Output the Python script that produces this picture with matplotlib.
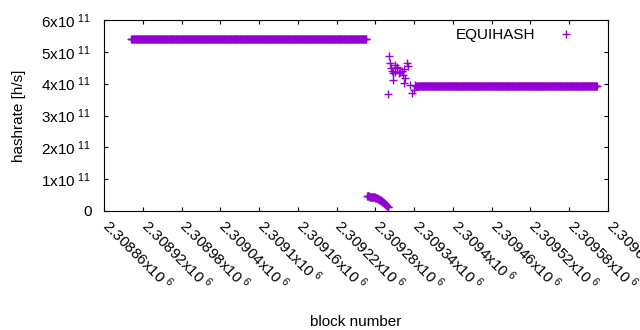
import numpy as np
import matplotlib
matplotlib.use("Agg")
import matplotlib.pyplot as plt
import matplotlib.transforms as mtransforms

plt.rcParams['font.family'] = ['Liberation Sans', 'DejaVu Sans']
plt.rcParams['mathtext.fontset'] = 'custom'
plt.rcParams['mathtext.rm'] = 'Liberation Sans'

# long flat stretches: (first block, last block, hashrate)
flat_high = (2308902, 2309266, 5.40e11)
flat_tail = (2309345, 2309623, 3.92e11)

# dip right after the high stretch
dip_blocks = np.arange(2309267, 2309301)
dip_vals = np.array([0.47, 0.46, 0.46, 0.46, 0.45, 0.45, 0.45, 0.45, 0.44, 0.44,
                     0.44, 0.43, 0.43, 0.42, 0.42, 0.41, 0.40, 0.39, 0.38, 0.36,
                     0.35, 0.34, 0.32, 0.31, 0.29, 0.27, 0.26, 0.24, 0.22, 0.20,
                     0.18, 0.15, 0.13, 0.11]) * 1e11

# scattered points before the tail settles
scat_blocks = [2309299, 2309301, 2309302, 2309304, 2309306, 2309307, 2309308, 2309310,
               2309311, 2309313, 2309314, 2309316, 2309318, 2309321, 2309322, 2309325,
               2309325, 2309326, 2309329, 2309331, 2309334, 2309337, 2309339, 2309341,
               2309343]
scat_vals = np.array([3.68, 4.88, 4.66, 4.50, 4.41, 4.12, 4.33, 4.38, 4.60, 4.50,
                      4.53, 4.33, 4.38, 4.41, 4.26, 4.45, 4.03, 4.17, 4.66, 4.56,
                      3.96, 3.70, 3.80, 3.96, 3.92]) * 1e11

x_ticks = np.arange(2308860, 2309641, 60)
y_ticks = [0, 1e11, 2e11, 3e11, 4e11, 5e11, 6e11]

xs = np.concatenate([np.arange(flat_high[0], flat_high[1] + 1), dip_blocks,
                     scat_blocks, np.arange(flat_tail[0], flat_tail[1] + 1)])
ys = np.concatenate([np.full(flat_high[1] - flat_high[0] + 1, flat_high[2]), dip_vals,
                     scat_vals, np.full(flat_tail[1] - flat_tail[0] + 1, flat_tail[2])])

fig = plt.figure(figsize=(6.4, 3.3), dpi=100)
ax = fig.add_axes([104/640, 1-211/330, 504/640, 191/330])

ax.plot(xs, ys, '+', color='#9400D3', ms=5.5, mew=1, label='EQUIHASH')

ax.set_xlim(x_ticks[0], x_ticks[-1])
ax.set_ylim(0, 6e11)
ax.tick_params(direction='in', length=3, width=0.8, top=True, right=True, labelsize=11)
ax.tick_params(axis='x', pad=9)
ax.tick_params(axis='y', pad=9)
ax.set_xticks(x_ticks)
ax.set_xticklabels([r'$\mathregular{%sx10^{\ 6}}$' % format(v/1e6, 'g') for v in x_ticks],
                   rotation=-45, ha='left', va='top', rotation_mode='anchor')
# nudge rotated labels so they start right at the tick
shift = mtransforms.ScaledTranslation(0.08, 0.08, fig.dpi_scale_trans)
for lbl in ax.get_xticklabels():
    lbl.set_transform(lbl.get_transform() + shift)
ax.set_yticks(y_ticks)
ax.set_yticklabels(['0'] + [r'$\mathregular{%dx10^{\ 11}}$' % (v/1e11) for v in y_ticks[1:]])
for s in ax.spines.values():
    s.set_linewidth(0.8)

ax.set_xlabel('block number', fontsize=11)
ax.xaxis.set_label_coords(0.5, -0.545)
ax.set_ylabel('hashrate [h/s]', fontsize=11)
ax.yaxis.set_label_coords(-0.155, 0.5)

ax.legend(loc='upper right', frameon=False, markerfirst=False, fontsize=11,
          numpoints=1, handlelength=2.5, bbox_to_anchor=(0.982, 1.03))

fig.savefig('out.png', dpi=100)
